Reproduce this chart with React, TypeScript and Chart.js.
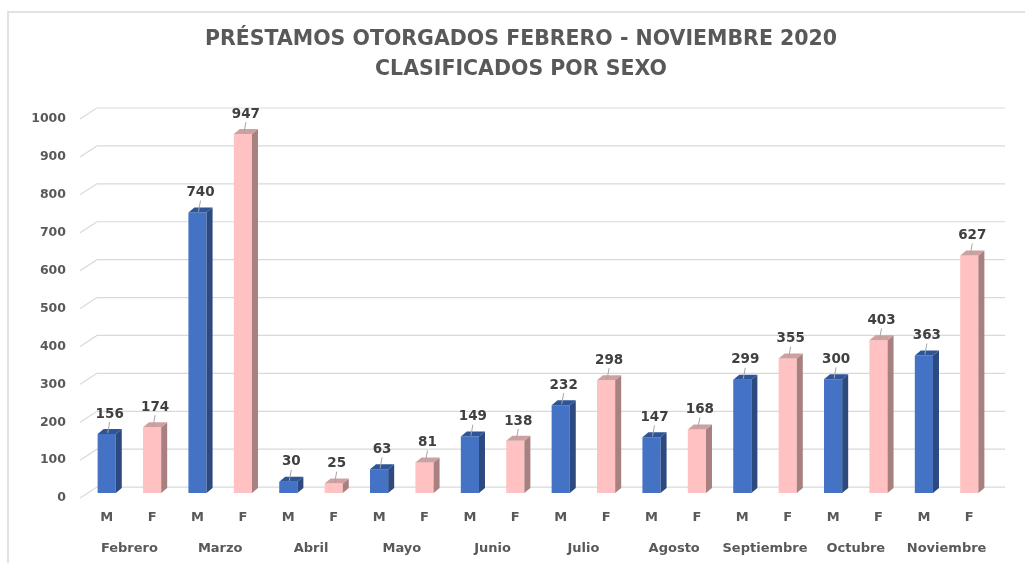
import React, { useEffect, useRef } from "react";
import { Chart, registerables } from "chart.js";

Chart.register(...registerables);

const titleLines = ["PRÉSTAMOS OTORGADOS FEBRERO - NOVIEMBRE 2020", "CLASIFICADOS POR SEXO"];
const months = ["Febrero", "Marzo", "Abril", "Mayo", "Junio", "Julio", "Agosto", "Septiembre", "Octubre", "Noviembre"];
const sexLabels = ["M", "F"];
const maleValues = [156, 740, 30, 63, 149, 232, 147, 299, 300, 363];
const femaleValues = [174, 947, 25, 81, 138, 298, 168, 355, 403, 627];
const yMin = 0;
const yMax = 1000;
const yStep = 100;

const FONT = "'DejaVu Sans', 'Open Sans', sans-serif";
const TEXT = "#595959";

const COLORS = {
  M: { front: "#4472C4", side: "#2C4A80", top: "#2F5597" },
  F: { front: "#FFC1C1", side: "#A88080", top: "#CFA0A0" },
};

const DEPTH_X = 6;
const DEPTH_Y = 5;

const titlePlugin = {
  id: "centeredTitle",
  afterDraw(chart: any) {
    const { ctx } = chart;
    ctx.save();
    ctx.fillStyle = TEXT;
    ctx.font = `bold 20.5px ${FONT}`;
    ctx.textAlign = "center";
    ctx.textBaseline = "middle";
    titleLines.forEach((line, i) => {
      ctx.fillText(line, 521, 40 + i * 30);
    });
    ctx.restore();
  },
};

const wallPlugin = {
  id: "wall3d",
  beforeDatasetsDraw(chart: any) {
    const { ctx, chartArea } = chart;
    const y = chart.scales.y;
    ctx.save();
    ctx.strokeStyle = "#d9d9d9";
    ctx.lineWidth = 1.2;
    for (let v = yMin; v <= yMax; v += yStep) {
      const p = y.getPixelForValue(v);
      ctx.beginPath();
      ctx.moveTo(chartArea.left - 4, p + 5);
      ctx.lineTo(chartArea.left + 13, p - 6);
      ctx.lineTo(chartArea.right + 13, p - 6);
      ctx.stroke();
    }
    ctx.restore();
  },
};

const barFacesPlugin = {
  id: "barFaces3d",
  afterDatasetsDraw(chart: any) {
    const { ctx } = chart;
    chart.data.datasets.forEach((ds: any, di: number) => {
      const meta = chart.getDatasetMeta(di);
      const col = (COLORS as any)[ds.sex];
      meta.data.forEach((el: any, i: number) => {
        const raw = ds.data[i];
        if (raw === null || raw === undefined) return;
        const { x, y, base, width } = el.getProps(["x", "y", "base", "width"], true);
        const l = x - width / 2;
        const r = x + width / 2;
        ctx.save();
        ctx.fillStyle = col.side;
        ctx.beginPath();
        ctx.moveTo(r, y);
        ctx.lineTo(r + DEPTH_X, y - DEPTH_Y);
        ctx.lineTo(r + DEPTH_X, base - DEPTH_Y);
        ctx.lineTo(r, base);
        ctx.closePath();
        ctx.fill();
        ctx.fillStyle = col.top;
        ctx.beginPath();
        ctx.moveTo(l, y);
        ctx.lineTo(l + DEPTH_X, y - DEPTH_Y);
        ctx.lineTo(r + DEPTH_X, y - DEPTH_Y);
        ctx.lineTo(r, y);
        ctx.closePath();
        ctx.fill();
        ctx.strokeStyle = "#a6a6a6";
        ctx.lineWidth = 1;
        ctx.beginPath();
        ctx.moveTo(x + 1, y - 1);
        ctx.lineTo(x + 3, y - 12);
        ctx.stroke();
        ctx.fillStyle = "#404040";
        ctx.font = `bold 13.5px ${FONT}`;
        ctx.textAlign = "center";
        ctx.textBaseline = "bottom";
        ctx.fillText(String(raw), x + 3, y - 13);
        ctx.restore();
      });
    });
  },
};

export default function App() {
  const ref = useRef<HTMLCanvasElement | null>(null);

  useEffect(() => {
    if (!ref.current) return;
    const barLabels = months.flatMap(() => sexLabels);
    const maleData = months.flatMap((_, i) => [maleValues[i], null]);
    const femaleData = months.flatMap((_, i) => [null, femaleValues[i]]);

    const chart = new Chart(ref.current, {
      type: "bar",
      data: {
        labels: barLabels,
        datasets: [
          {
            label: "M",
            sex: "M",
            data: maleData,
            backgroundColor: COLORS.M.front,
            grouped: false,
            barPercentage: 0.4,
            categoryPercentage: 1,
          } as any,
          {
            label: "F",
            sex: "F",
            data: femaleData,
            backgroundColor: COLORS.F.front,
            grouped: false,
            barPercentage: 0.4,
            categoryPercentage: 1,
          } as any,
        ],
      },
      options: {
        responsive: false,
        animation: false,
        layout: { padding: { left: 0, right: 33, top: 114, bottom: 6 } },
        plugins: {
          legend: { display: false },
          tooltip: { enabled: false },
          title: { display: false },
        },
        scales: {
          x: {
            type: "category",
            position: "bottom",
            weight: 0,
            grid: { display: false, drawTicks: false },
            border: { display: false },
            afterFit: (scale: any) => {
              scale.height = 33.4;
            },
            ticks: {
              color: TEXT,
              font: { family: FONT, size: 13, weight: "bold", lineHeight: 1.2 },
              padding: 17.2,
              autoSkip: false,
              maxRotation: 0,
            },
          },
          x2: {
            type: "category",
            position: "bottom",
            weight: 1,
            labels: months,
            offset: true,
            grid: { display: false, drawTicks: false },
            border: { display: false },
            afterFit: (scale: any) => {
              scale.height = 30.5;
            },
            ticks: {
              color: TEXT,
              font: { family: FONT, size: 13, weight: "bold", lineHeight: 1.2 },
              padding: 14.3,
              autoSkip: false,
              maxRotation: 0,
            },
          },
          y: {
            min: yMin,
            max: yMax,
            grid: { display: false, drawTicks: false },
            border: { display: false },
            afterFit: (scale: any) => {
              scale.width = 84;
            },
            ticks: {
              stepSize: yStep,
              color: TEXT,
              font: { family: FONT, size: 12.5, weight: "bold" },
              padding: 18,
              labelOffset: 5,
              callback: (v: any) => String(v),
            },
          },
        },
      },
      plugins: [wallPlugin, barFacesPlugin, titlePlugin],
    } as any);
    return () => chart.destroy();
  }, []);

  return (
    <div style={{ position: "absolute", left: 0, top: 0, width: 1025, height: 563, background: "#fff", overflow: "hidden" }}>
      <div
        style={{
          position: "absolute",
          left: 7,
          top: 11,
          width: 1030,
          height: 560,
          borderTop: "2px solid #e2e2e2",
          borderLeft: "2px solid #e2e2e2",
        }}
      />
      <canvas ref={ref} width={1025} height={563} style={{ position: "absolute", left: 0, top: 0 }} />
    </div>
  );
}
